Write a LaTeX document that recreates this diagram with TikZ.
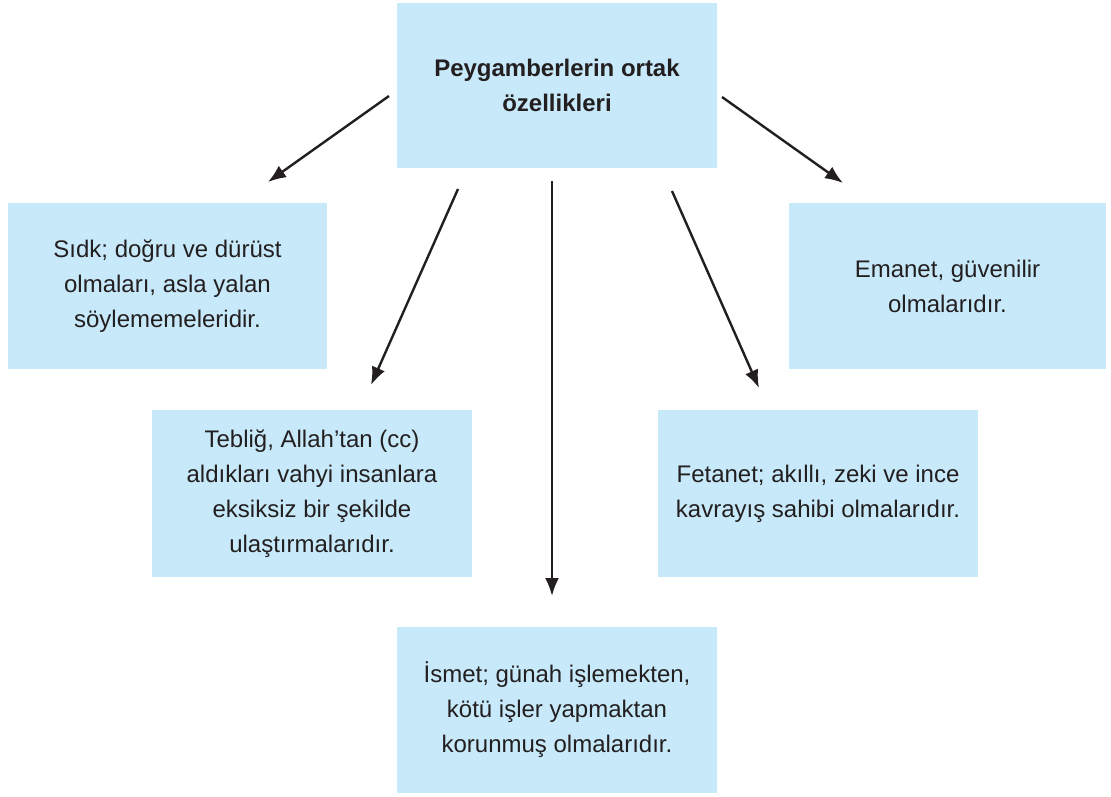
\documentclass[tikz,border=0pt]{standalone}
\usepackage{fontspec}
\setmainfont{Liberation Sans}
\usetikzlibrary{arrows.meta}
\definecolor{boxblue}{HTML}{C7E9F9}
\definecolor{ink}{HTML}{231F20}
\tikzset{
  infobox/.style={fill=boxblue, draw=none, inner sep=0pt, align=center, text=ink,
    font=\fontsize{24}{35}\selectfont},
  link/.style={draw=ink, line width=2.4pt, -{Latex[length=18pt,width=14pt]}}
}
\begin{document}
\begin{tikzpicture}[x=1pt,y=-1pt]
\useasboundingbox (0,0) rectangle (1111,797);
\node[infobox, minimum width=320pt, minimum height=165pt, font=\fontsize{24}{35}\selectfont\bfseries] (top) at (557,85.5) {Peygamberlerin ortak\\özellikleri};
\node[infobox, minimum width=319pt, minimum height=166pt] (sidk) at (167.5,286) {Sıdk; doğru ve dürüst\\olmaları, asla yalan\\söylememeleridir.};
\node[infobox, minimum width=317pt, minimum height=166pt] (emanet) at (947.5,286) {Emanet, güvenilir\\olmalarıdır.};
\node[infobox, minimum width=320pt, minimum height=167pt] (teblig) at (312,493.5) {Tebliğ, Allah’tan (cc)\\aldıkları vahyi insanlara\\eksiksiz bir şekilde\\ulaştırmalarıdır.};
\node[infobox, minimum width=320pt, minimum height=167pt] (fetanet) at (818,493.5) {Fetanet; akıllı, zeki ve ince\\kavrayış sahibi olmalarıdır.};
\node[infobox, minimum width=320pt, minimum height=166pt] (ismet) at (557,710) {İsmet; günah işlemekten,\\kötü işler yapmaktan\\korunmuş olmalarıdır.};
\coordinate (s1) at (389,96);  \coordinate (e1) at (268,182);
\coordinate (s2) at (458,189); \coordinate (e2) at (371,385);
\coordinate (s3) at (552,181); \coordinate (e3) at (552,596);
\coordinate (s4) at (672,191); \coordinate (e4) at (759,388);
\coordinate (s5) at (722,97);  \coordinate (e5) at (843,183);
\draw[link] (s1) -- (e1);
\draw[link] (s2) -- (e2);
\draw[link] (s3) -- (e3);
\draw[link] (s4) -- (e4);
\draw[link] (s5) -- (e5);
\end{tikzpicture}
\end{document}
